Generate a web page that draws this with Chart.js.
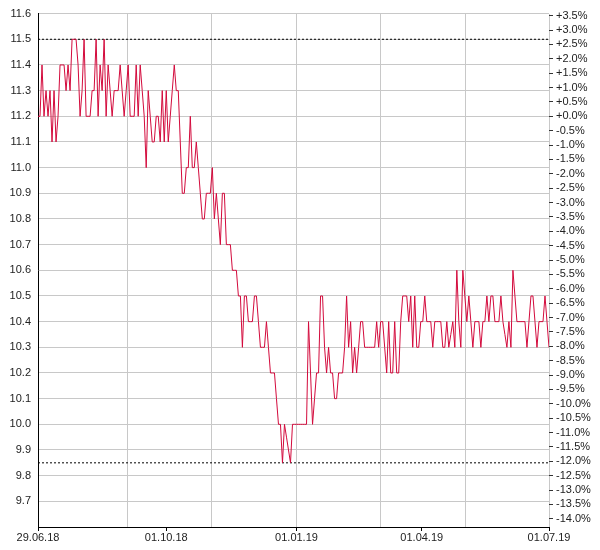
<!DOCTYPE html>
<html><head><meta charset="utf-8">
<script src="https://cdn.jsdelivr.net/npm/chart.js@4.4.0/dist/chart.umd.min.js"></script>
<style>html,body{margin:0;padding:0;background:#fff}#wrap{width:600px;height:550px}</style>
</head><body><div id="wrap"><canvas id="c" width="600" height="550"></canvas></div>
<script>
// Daily closing prices (trading-day order)
const priceSeries = [
  11.2,11.2,11.4,11.2,11.3,11.2,11.3,11.1,11.3,11.1, 11.2,11.4,11.4,11.4,11.3,11.4,11.3,11.5,11.5,11.5,
  11.4,11.2,11.3,11.5,11.2,11.2,11.2,11.3,11.3,11.5, 11.2,11.4,11.3,11.5,11.2,11.4,11.3,11.2,11.3,11.3,
  11.3,11.4,11.3,11.2,11.3,
  11.4,11.2,11.2,11.2,11.4,11.2,11.4,11.3,11.2,11.0, 11.3,11.2,11.1,11.1,11.2,11.2,11.1,11.3,11.1,11.3,
  11.1,11.2,11.3,11.4,11.3,11.3,11.1,10.9,10.9,11.0, 11.0,11.2,11.0,11.0,11.1,11.0,10.9,10.8,10.8,10.9,
  10.9,10.9,11.0,10.8,
  10.9,10.8,10.7,10.9,10.9,10.7,10.7,10.7,10.6,10.6, 10.6,10.5,10.5,10.3,10.5,10.5,10.4,10.4,10.4,10.5,
  10.5,10.4,10.3,10.3,10.3,10.4,10.3,10.2,10.2,10.2, 10.1,10.0,10.0,9.85,10.0,9.95,9.9,9.85,10.0,10.0,
  10.0,10.0,
  10.0,10.0,10.0,10.0,10.4,10.2,10.0,10.1,10.2,10.2, 10.5,10.5,10.3,10.2,10.3,10.2,10.2,10.1,10.1,10.2,
  10.2,10.2,10.3,10.5,10.3,10.4,10.2,10.3,10.2,10.3, 10.4,10.4,10.3,10.3,10.3,10.3,10.3,10.3,10.4,10.3,
  10.4,10.4,10.3,
  10.2,10.4,10.2,10.2,10.4,10.2,10.2,10.4,10.5,10.5, 10.5,10.4,10.5,10.3,10.5,10.3,10.3,10.4,10.4,10.5,
  10.4,10.4,10.4,10.3,10.4,10.4,10.4,10.4,10.3,10.3, 10.4,10.3,10.35,10.4,10.3,10.6,10.4,10.3,10.6,10.5,
  10.4,10.5,10.4,10.3,10.4,10.4,10.4,10.3,10.4,10.4, 10.5,10.4,10.5,10.5,10.4,10.4,10.4,10.5,10.4,10.35,
  10.3,10.4,10.3,10.6,10.5,10.4,10.4,10.4,10.4,10.4, 10.3,10.4,10.5,10.5,10.4,10.3,10.4,10.4,10.4,10.5,
  10.4,10.3
];
// Date labels on the time axis and the trading-day index where each falls
const dateLabels = ['29.06.18','01.10.18','01.01.19','01.04.19','01.07.19'];
const dateLabelIndex = [0, 64, 129, 191.5, 255];
// Vertical grid divisions (trading-day index)
const gridIndex = [44.6, 86.6, 129.1, 171.1, 213.1, 255];
// Price axis ticks
const priceTicks = [9.7,9.8,9.9,10.0,10.1,10.2,10.3,10.4,10.5,10.6,10.7,10.8,10.9,11.0,11.1,11.2,11.3,11.4,11.5,11.6];
const priceMin = 9.6, priceMax = 11.6;
// Reference price for the percentage axis and its ticks
const basePrice = 11.2;
const pctTicks = [];
for (let p = -14.0; p <= 3.5001; p += 0.5) pctTicks.push(Math.round(p * 10) / 10);

const N = priceSeries.length;
const hi = Math.max(...priceSeries), lo = Math.min(...priceSeries);
const toPct = v => (v / basePrice - 1) * 100;

const FONT = {family: '"Liberation Sans", Arial, sans-serif', size: 11};
const TXT = '#222';
const GRID = '#c8c8c8';

new Chart(document.getElementById('c'), {
  type: 'line',
  data: {
    datasets: [
      {data: priceSeries.map((v, i) => ({x: i, y: v})), borderColor: '#d30a3c', borderWidth: 1,
       pointRadius: 0, tension: 0, fill: false, xAxisID: 'x', yAxisID: 'y', order: 1},
      {data: [{x: 0, y: hi}, {x: N - 1, y: hi}], borderColor: '#000', borderWidth: 1, borderDash: [2, 2],
       pointRadius: 0, fill: false, xAxisID: 'x', yAxisID: 'y', order: 2},
      {data: [{x: 0, y: lo}, {x: N - 1, y: lo}], borderColor: '#000', borderWidth: 1, borderDash: [2, 2],
       pointRadius: 0, fill: false, xAxisID: 'x', yAxisID: 'y', order: 2}
    ]
  },
  options: {
    responsive: false, animation: false, devicePixelRatio: 1,
    layout: {padding: {top: 10, left: 0, right: 0, bottom: 0}},
    plugins: {legend: {display: false}, tooltip: {enabled: false}},
    scales: {
      xg: {
        type: 'linear', position: 'top', min: 0, max: N - 1,
        afterBuildTicks: s => { s.ticks = gridIndex.map(v => ({value: v})); },
        ticks: {display: false},
        grid: {color: GRID, drawTicks: false, lineWidth: 1},
        border: {display: false},
        afterFit: s => { s.height = 0; }
      },
      x: {
        type: 'linear', position: 'bottom', min: 0, max: N - 1,
        afterBuildTicks: s => { s.ticks = dateLabelIndex.map(v => ({value: v})); },
        ticks: {callback: (v, i) => dateLabels[i], autoSkip: false, maxRotation: 0, padding: 0, color: TXT, font: FONT},
        grid: {drawOnChartArea: false, drawTicks: true, tickLength: 4, tickColor: '#000'},
        border: {display: true, color: '#000', width: 1},
        afterFit: s => { s.height = 23; }
      },
      y: {
        type: 'linear', position: 'left', min: priceMin, max: priceMax,
        afterBuildTicks: s => { s.ticks = priceTicks.map(v => ({value: v})); },
        ticks: {callback: v => v.toFixed(1), autoSkip: false, padding: 7, color: TXT, font: FONT},
        grid: {color: GRID, drawTicks: false, lineWidth: 1},
        border: {display: true, color: '#000', width: 1},
        afterFit: s => { s.width = 38; }
      },
      y2: {
        type: 'linear', position: 'right', min: toPct(priceMin), max: toPct(priceMax),
        afterBuildTicks: s => { s.ticks = pctTicks.map(v => ({value: v})); },
        ticks: {callback: v => (v >= 0 ? '+' : '') + v.toFixed(1) + '%', autoSkip: false, padding: 3, color: TXT, font: FONT},
        grid: {drawOnChartArea: false, drawTicks: true, tickLength: 4, tickColor: '#333'},
        border: {display: false},
        afterFit: s => { s.width = 51; }
      }
    }
  }
});
</script></body></html>
